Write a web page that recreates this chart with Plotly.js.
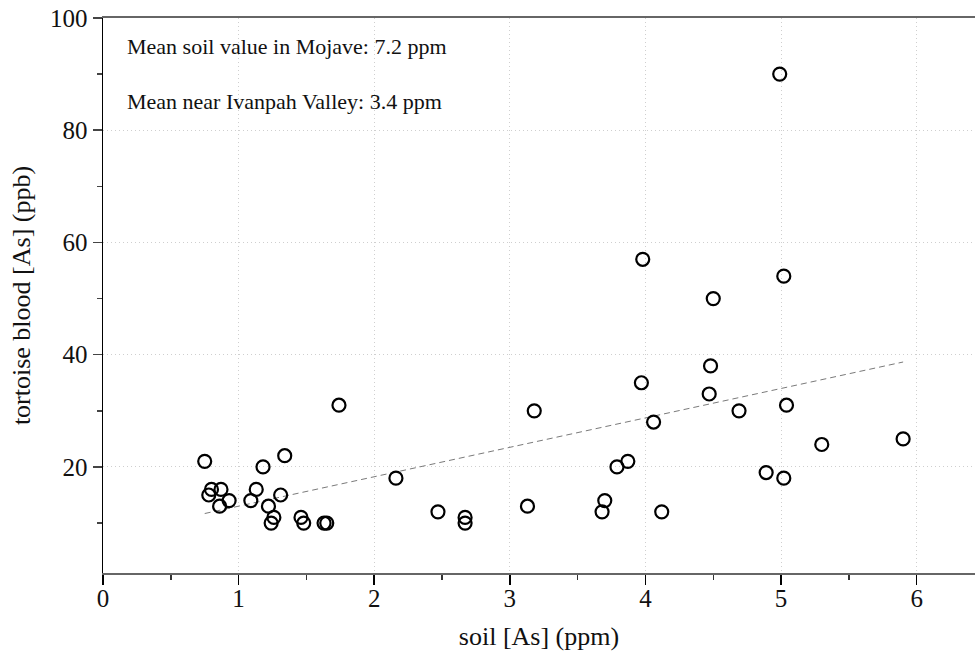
<!DOCTYPE html>
<html>
<head>
<meta charset="utf-8">
<script src="https://cdn.plot.ly/plotly-3.0.1.min.js"></script>
<style>html,body{margin:0;padding:0;background:#fff;}#chart{width:975px;height:655px;}</style>
</head>
<body>
<div id="chart"></div>
<script>
// soil arsenic (ppm)
const soilAs = [0.75, 1.74, 1.34, 1.18, 0.80, 0.87, 0.78, 0.86, 0.93, 1.13, 1.09, 1.31, 1.22, 1.26, 1.24,
  1.46, 1.48, 1.63, 1.65, 2.16, 2.47, 2.67, 2.67, 3.18, 3.13, 3.70, 3.68, 3.79, 3.87, 4.06, 4.12,
  3.97, 3.98, 5.02, 4.50, 4.48, 4.47, 4.69, 5.04, 5.30, 5.90, 4.89, 5.02, 4.99];
// tortoise blood arsenic (ppb)
const bloodAs = [21, 31, 22, 20, 16, 16, 15, 13, 14, 16, 14, 15, 13, 11, 10,
  11, 10, 10, 10, 18, 12, 11, 10, 30, 13, 14, 12, 20, 21, 28, 12,
  35, 57, 54, 50, 38, 33, 30, 31, 24, 25, 19, 18, 90];
// trend line end points
const trendX = [0.75, 5.90];
const trendY = [11.7, 38.7];
const notes = ["Mean soil value in Mojave: 7.2 ppm", "Mean near Ivanpah Valley: 3.4 ppm"];

const font = "'Liberation Serif', 'Times New Roman', serif";

const traces = [
  {x: trendX, y: trendY, type: 'scatter', mode: 'lines',
   line: {color: '#7a7a7a', width: 1, dash: '6px,4px'}, hoverinfo: 'skip'},
  {x: soilAs, y: bloodAs, type: 'scatter', mode: 'markers',
   marker: {symbol: 'circle-open', size: 13, color: '#000', line: {width: 2.2, color: '#000'}}}
];

const layout = {
  width: 975, height: 655,
  margin: {l: 103, r: 0, t: 18, b: 82, pad: 0},
  paper_bgcolor: '#fff', plot_bgcolor: '#fff',
  showlegend: false,
  font: {family: font, color: '#111', size: 22},
  xaxis: {
    range: [0, 6.43], dtick: 1, tick0: 0,
    showgrid: true, gridcolor: '#cfcfcf', griddash: '1px,3px', gridwidth: 1,
    zeroline: false, showline: true, linecolor: '#666', linewidth: 2, mirror: true,
    ticks: 'outside', ticklen: 10, tickwidth: 1.5, tickcolor: '#000',
    ticklabelstandoff: -8,
    minor: {dtick: 0.5, ticks: 'outside', ticklen: 5, tickcolor: '#333', showgrid: false},
    tickfont: {family: font, size: 25, color: '#111'},
    title: {text: 'soil [As] (ppm)', font: {family: font, size: 26, color: '#111'}, standoff: 16}
  },
  yaxis: {
    range: [1.1, 100], dtick: 20, tick0: 0,
    showgrid: true, gridcolor: '#cfcfcf', griddash: '1px,3px', gridwidth: 1,
    zeroline: false, showline: true, linecolor: '#000', linewidth: 1.5,
    ticks: 'outside', ticklen: 9, tickwidth: 1.5, tickcolor: '#444',
    minor: {dtick: 10, ticks: 'outside', ticklen: 5, tickcolor: '#444', showgrid: false},
    tickfont: {family: font, size: 25, color: '#111'},
    title: {text: 'tortoise blood [As] (ppb)', font: {family: font, size: 26, color: '#111'}, standoff: 12}
  },
  annotations: [
    {text: notes[0], xref: 'paper', yref: 'paper', x: 0.0256, y: 0.948, xanchor: 'left', yanchor: 'middle',
     showarrow: false, font: {family: font, size: 22, color: '#111'}},
    {text: notes[1], xref: 'paper', yref: 'paper', x: 0.0256, y: 0.850, xanchor: 'left', yanchor: 'middle',
     showarrow: false, font: {family: font, size: 22, color: '#111'}}
  ]
};

Plotly.newPlot('chart', traces, layout, {displayModeBar: false, staticPlot: true});
</script>
</body>
</html>
